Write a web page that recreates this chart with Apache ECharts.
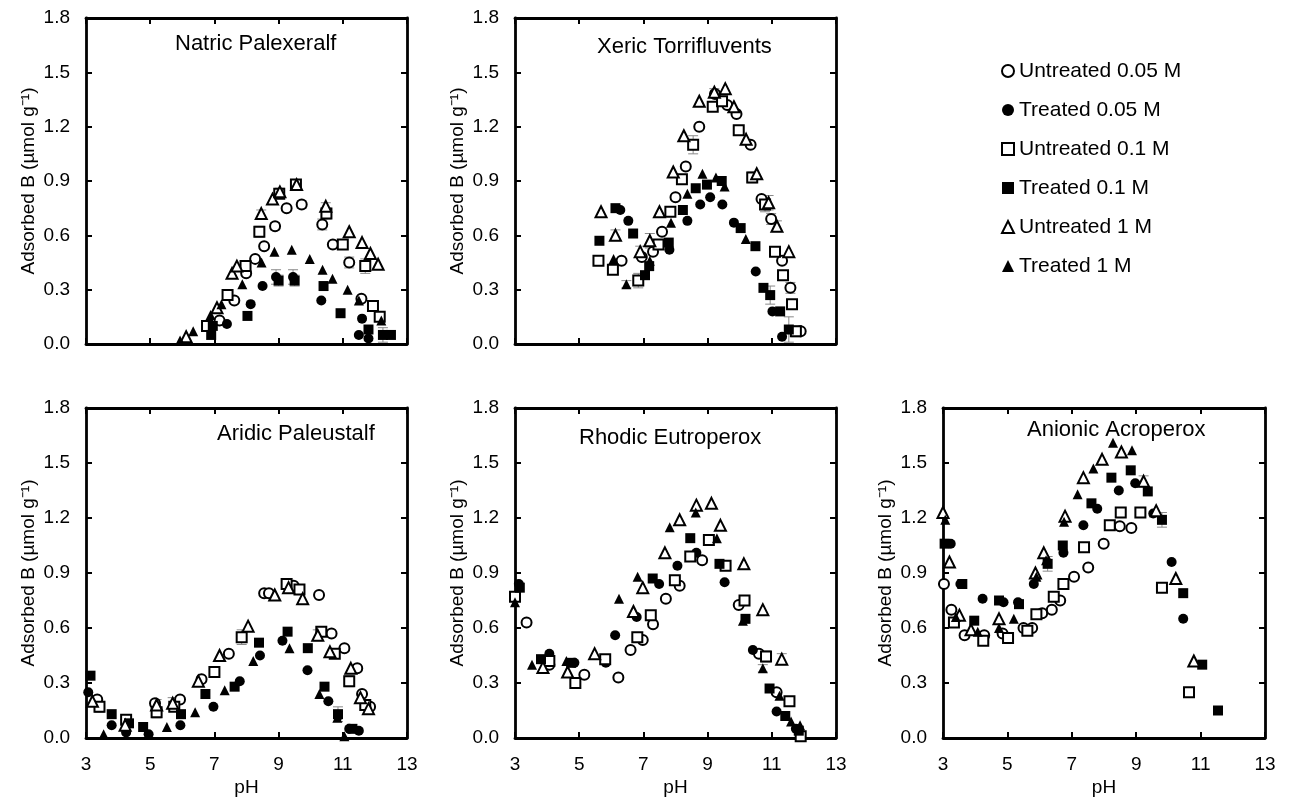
<!DOCTYPE html>
<html>
<head>
<meta charset="utf-8">
<script src="https://cdn.jsdelivr.net/npm/echarts@6/dist/echarts.min.js"></script>
<style>
  html, body { margin: 0; padding: 0; background: #fff; }
  #chart { width: 1291px; height: 800px; }
</style>
</head>
<body>
<div id="chart"></div>
<script>
// Boron adsorption vs pH for five soils, three NaCl background levels, untreated / treated
const seriesNames = ['Untreated 0.05 M', 'Treated 0.05 M', 'Untreated 0.1 M', 'Treated 0.1 M', 'Untreated 1 M', 'Treated 1 M'];
const panelTitles = ['Natric Palexeralf', 'Xeric Torrifluvents', 'Aridic Paleustalf', 'Rhodic Eutroperox', 'Anionic Acroperox'];
const xTicks = [3, 5, 7, 9, 11, 13];
const yTicks = [0.0, 0.3, 0.6, 0.9, 1.2, 1.5, 1.8];

// [pH, adsorbed B (µmol/g), optional standard error]
const natricU005 = [[7.16,0.13],[7.62,0.24],[7.99,0.39],[8.27,0.47],[8.55,0.54],[8.89,0.65,0.02],[9.25,0.75],[9.72,0.77,0.02],[10.36,0.66,0.03],[10.69,0.55],[11.2,0.45,0.03],[11.58,0.25]];
const natricT005 = [[7.39,0.11],[8.13,0.22],[8.5,0.32],[8.92,0.37,0.04],[9.45,0.37,0.04],[10.33,0.24],[11.5,0.05],[11.6,0.14],[11.8,0.03]];
const natricU01  = [[6.77,0.10],[7.41,0.27],[7.97,0.43],[8.4,0.62,0.03],[9.02,0.83],[9.54,0.88,0.02],[10.49,0.72,0.03],[11.0,0.55],[11.7,0.43,0.04],[11.94,0.21,0.03],[12.15,0.15]];
const natricT01  = [[6.9,0.05],[6.95,0.10],[8.03,0.155],[9.0,0.35,0.03],[9.5,0.35,0.03],[10.4,0.32],[10.93,0.17],[11.8,0.08],[12.25,0.05,0.04],[12.5,0.05]];
const natricU1   = [[6.12,0.04],[7.08,0.20],[7.55,0.39],[7.7,0.43],[8.46,0.72,0.02],[8.81,0.80],[9.04,0.84,0.02],[9.56,0.88],[10.47,0.76,0.02],[11.2,0.62],[11.6,0.56],[11.86,0.50],[12.1,0.44]];
const natricT1   = [[5.93,0.02],[6.34,0.07],[6.88,0.16],[7.22,0.22],[7.87,0.33],[8.47,0.45],[8.87,0.51],[9.41,0.52],[9.97,0.47],[10.37,0.41],[10.68,0.36],[11.15,0.30],[11.5,0.24],[12.2,0.13]];

const xericU005 = [[6.32,0.46],[6.95,0.48],[7.3,0.51],[7.58,0.62],[8.0,0.81],[8.32,0.98],[8.74,1.20],[9.23,1.38,0.02],[9.61,1.32],[9.9,1.27],[10.34,1.10],[10.68,0.80],[10.98,0.69,0.03],[11.32,0.46],[11.58,0.31,0.03],[11.9,0.07]];
const xericT005 = [[6.28,0.74],[6.53,0.68],[7.81,0.52],[8.37,0.68],[8.77,0.77],[9.08,0.81],[9.46,0.77],[9.82,0.67],[10.5,0.40],[11.02,0.18],[11.32,0.04]];
const xericU01  = [[5.6,0.46],[6.05,0.41],[6.84,0.35,0.04],[7.47,0.55],[7.84,0.73],[8.2,0.91],[8.55,1.10,0.05],[9.16,1.31],[9.45,1.34],[9.97,1.18],[10.39,0.92,0.03],[10.79,0.77,0.04],[11.1,0.51],[11.35,0.38],[11.63,0.22],[11.75,0.07,0.03]];
const xericT01  = [[5.63,0.57],[6.13,0.75],[6.68,0.61],[7.05,0.38],[7.18,0.43],[7.79,0.56],[8.23,0.74],[8.63,0.86],[8.98,0.88],[9.44,0.90],[10.03,0.64],[10.49,0.54],[10.74,0.31],[10.95,0.27,0.05],[11.26,0.18],[11.53,0.08,0.07]];
const xericU1   = [[5.68,0.73],[6.13,0.60,0.03],[6.9,0.51,0.03],[7.2,0.57,0.04],[7.5,0.73],[7.93,0.95],[8.26,1.15],[8.74,1.34],[9.21,1.39,0.02],[9.55,1.41],[9.82,1.31],[10.2,1.13],[10.53,0.94],[10.9,0.78,0.04],[11.16,0.65,0.03],[11.53,0.51]];
const xericT1   = [[6.07,0.47],[6.47,0.33,0.02],[7.2,0.46],[7.86,0.67],[8.37,0.83],[8.84,0.94],[9.26,0.92],[9.53,0.87],[10.19,0.58]];

const aridicU005 = [[3.35,0.21],[5.15,0.19],[5.93,0.21],[6.6,0.32],[7.45,0.46],[8.55,0.79],[8.7,0.79],[9.47,0.83],[10.26,0.78],[10.65,0.57],[11.05,0.49],[11.45,0.38],[11.6,0.24],[11.85,0.17]];
const aridicT005 = [[3.07,0.25],[3.8,0.07],[4.25,0.03],[4.95,0.02],[5.94,0.07],[6.97,0.17],[7.79,0.31],[8.42,0.45],[9.12,0.53],[9.9,0.37],[10.55,0.20],[10.85,0.12],[11.2,0.05],[11.5,0.04]];
const aridicU01  = [[3.42,0.17,0.03],[4.25,0.10],[5.2,0.14,0.03],[5.75,0.17],[7.0,0.36],[7.85,0.55,0.04],[9.25,0.84,0.03],[9.65,0.81],[10.33,0.58],[10.75,0.46],[11.2,0.31,0.03],[11.7,0.18]];
const aridicT01  = [[3.14,0.34],[3.8,0.13],[4.34,0.08],[4.78,0.06],[5.96,0.13],[6.72,0.24],[7.63,0.28],[8.39,0.52],[9.28,0.58],[9.91,0.49],[10.43,0.28],[10.85,0.13,0.04],[11.3,0.05]];
const aridicU1   = [[3.2,0.20],[4.22,0.07,0.03],[5.2,0.18,0.03],[5.7,0.19,0.03],[6.5,0.31],[7.16,0.45],[8.05,0.61],[8.88,0.78],[9.31,0.82],[9.75,0.76],[10.22,0.56,0.03],[10.6,0.47],[11.25,0.38],[11.55,0.22],[11.8,0.16]];
const aridicT1   = [[3.55,0.02],[5.52,0.06],[6.4,0.14],[7.32,0.26],[8.21,0.42],[9.34,0.49],[10.27,0.24],[10.83,0.11],[11.05,0.01]];

const rhodicU005 = [[3.36,0.63],[4.07,0.40],[5.16,0.345],[6.22,0.33],[6.6,0.48],[6.98,0.535],[7.3,0.62],[7.7,0.76],[8.13,0.83],[8.83,0.97],[9.97,0.725],[10.6,0.46],[11.15,0.25]];
const rhodicT005 = [[3.12,0.84],[4.07,0.46],[4.85,0.41],[5.83,0.41],[6.12,0.56],[6.79,0.66],[7.49,0.84],[8.06,0.94],[8.65,1.01],[9.53,0.85],[10.41,0.48],[11.15,0.145],[11.75,0.05]];
const rhodicU01  = [[3.0,0.77],[4.07,0.42],[4.88,0.30],[5.81,0.43],[6.81,0.55],[7.23,0.67],[7.98,0.86],[8.46,0.99],[9.04,1.08],[9.56,0.94],[10.15,0.75],[10.82,0.445,0.03],[11.55,0.20],[11.9,0.01]];
const rhodicT01  = [[3.15,0.82],[3.81,0.43],[4.75,0.41],[7.29,0.87],[8.46,1.09],[9.37,0.95],[10.18,0.65],[10.93,0.27],[11.42,0.12],[11.84,0.04]];
const rhodicU1   = [[3.87,0.385],[4.64,0.36],[5.48,0.46],[6.69,0.69],[6.98,0.82],[7.67,1.01],[8.13,1.19],[8.65,1.27],[9.12,1.28],[9.4,1.16],[10.13,0.95],[10.72,0.70],[11.31,0.43,0.03]];
const rhodicT1   = [[3.0,0.74],[3.53,0.40],[4.6,0.42],[6.24,0.76],[6.82,0.88],[7.82,1.15],[8.63,1.23],[9.29,1.09],[10.1,0.64],[10.72,0.38,0.02],[11.24,0.23],[11.6,0.09],[11.88,0.07]];

const anionicU005 = [[3.03,0.84],[3.26,0.70],[3.67,0.56],[4.28,0.56],[4.85,0.57],[5.5,0.60],[5.77,0.60],[6.08,0.68],[6.38,0.70],[6.64,0.75],[7.07,0.88],[7.51,0.93],[7.99,1.06],[8.49,1.155],[8.85,1.145]];
const anionicT005 = [[3.24,1.06],[3.54,0.84],[4.23,0.76],[4.88,0.74],[5.33,0.74],[5.82,0.84],[6.74,1.01],[7.36,1.16],[7.79,1.25],[8.46,1.35],[8.97,1.39],[9.53,1.225],[10.1,0.96],[10.46,0.65]];
const anionicU01  = [[3.34,0.63],[4.25,0.53],[5.02,0.545],[5.62,0.585],[5.9,0.675],[6.44,0.77],[6.74,0.84,0.02],[7.38,1.04],[8.18,1.16],[8.52,1.23],[9.13,1.23],[9.8,0.82],[10.64,0.25,0.02]];
const anionicT01  = [[3.05,1.06],[3.6,0.84],[3.97,0.64],[4.74,0.75],[5.36,0.73],[6.25,0.95,0.04],[6.72,1.05],[7.61,1.28],[8.23,1.42],[8.83,1.46],[9.36,1.345],[9.8,1.19,0.04],[10.46,0.79],[11.05,0.40],[11.54,0.15]];
const anionicU1   = [[3.0,1.23],[3.2,0.96],[3.51,0.67],[3.87,0.59],[4.74,0.65],[5.87,0.90],[6.13,1.01],[6.79,1.21],[7.36,1.42],[7.94,1.52],[8.54,1.56],[9.23,1.40,0.03],[9.62,1.24],[10.23,0.87],[10.79,0.42]];
const anionicT1   = [[3.07,1.19],[3.4,0.66],[4.08,0.58],[4.74,0.60],[5.2,0.65],[5.9,0.88],[6.2,0.97],[6.76,1.18],[7.18,1.33],[7.67,1.47],[8.28,1.61],[8.87,1.57]];

const panelData = [
  [natricU005, natricT005, natricU01, natricT01, natricU1, natricT1],
  [xericU005, xericT005, xericU01, xericT01, xericU1, xericT1],
  [aridicU005, aridicT005, aridicU01, aridicT01, aridicU1, aridicT1],
  [rhodicU005, rhodicT005, rhodicU01, rhodicT01, rhodicU1, rhodicT1],
  [anionicU005, anionicT005, anionicU01, anionicT01, anionicU1, anionicT1]
];

// layout of the five plot boxes
const boxes = [
  { left: 86,  top: 18,  width: 321, height: 326, bottomRow: false, titleLeft: 170,  titleTop: 28 },
  { left: 515, top: 18,  width: 321, height: 326, bottomRow: false, titleLeft: 592,  titleTop: 31 },
  { left: 86,  top: 408, width: 321, height: 330, bottomRow: true,  titleLeft: 212,  titleTop: 418 },
  { left: 515, top: 408, width: 321, height: 330, bottomRow: true,  titleLeft: 574,  titleTop: 422 },
  { left: 943, top: 408, width: 322, height: 330, bottomRow: true,  titleLeft: 1022, titleTop: 414 }
];

const markerSymbols = ['circle', 'circle', 'rect', 'rect', 'triangle', 'triangle'];
const markerSizes = [10, 10, 10, 10, 11, 10];
const markerHollow = [true, false, true, false, true, false];

const FONT = '"Liberation Sans", Arial, sans-serif';
const frameLine = { color: '#000', width: 2.8 };
const tickStyle = { show: true, inside: true, length: 6, lineStyle: { color: '#000', width: 2 } };

// vertical error whisker with caps
function renderErrorBar(params, api) {
  const x = api.value(0), y = api.value(1), e = api.value(2);
  const hi = api.coord([x, y + e]);
  const lo = api.coord([x, y - e]);
  const cap = 5;
  const style = { stroke: '#8a8a8a', lineWidth: 1 };
  return {
    type: 'group',
    children: [
      { type: 'line', shape: { x1: hi[0], y1: hi[1], x2: lo[0], y2: lo[1] }, style },
      { type: 'line', shape: { x1: hi[0] - cap, y1: hi[1], x2: hi[0] + cap, y2: hi[1] }, style },
      { type: 'line', shape: { x1: lo[0] - cap, y1: lo[1], x2: lo[0] + cap, y2: lo[1] }, style }
    ]
  };
}

const grid = [], xAxis = [], yAxis = [], series = [], title = [];

boxes.forEach((b, i) => {
  grid.push({ left: b.left, top: b.top, width: b.width, height: b.height, containLabel: false });
  title.push({
    text: panelTitles[i], left: b.titleLeft, top: b.titleTop,
    textStyle: { fontFamily: FONT, fontSize: 22, fontWeight: 'normal', color: '#000' }
  });
  // bottom and top x axes
  xAxis.push({
    gridIndex: i, type: 'value', position: 'bottom',
    min: xTicks[0], max: xTicks[xTicks.length - 1], interval: 2,
    axisLine: { show: true, onZero: false, lineStyle: frameLine },
    axisTick: tickStyle,
    axisLabel: { show: b.bottomRow, fontFamily: FONT, fontSize: 19, color: '#000', margin: 17 },
    splitLine: { show: false },
    name: b.bottomRow ? 'pH' : '', nameLocation: 'middle', nameGap: 40,
    nameTextStyle: { fontFamily: FONT, fontSize: 19, color: '#000' }
  });
  xAxis.push({
    gridIndex: i, type: 'value', position: 'top',
    min: xTicks[0], max: xTicks[xTicks.length - 1], interval: 2,
    axisLine: { show: true, onZero: false, lineStyle: frameLine },
    axisTick: tickStyle, axisLabel: { show: false }, splitLine: { show: false }
  });
  // left and right y axes
  yAxis.push({
    gridIndex: i, type: 'value', position: 'left',
    min: yTicks[0], max: yTicks[yTicks.length - 1], interval: 0.3,
    axisLine: { show: true, onZero: false, lineStyle: frameLine },
    axisTick: tickStyle,
    axisLabel: { fontFamily: FONT, fontSize: 19, color: '#000', margin: 16, formatter: v => v.toFixed(1) },
    splitLine: { show: false },
    name: 'Adsorbed B (µmol g⁻¹)', nameLocation: 'middle', nameGap: 48, nameRotate: 90,
    nameTextStyle: { fontFamily: FONT, fontSize: 19, color: '#000' }
  });
  yAxis.push({
    gridIndex: i, type: 'value', position: 'right',
    min: yTicks[0], max: yTicks[yTicks.length - 1], interval: 0.3,
    axisLine: { show: true, onZero: false, lineStyle: frameLine },
    axisTick: tickStyle, axisLabel: { show: false }, splitLine: { show: false }
  });

  panelData[i].forEach((pts, k) => {
    const withErr = pts.filter(p => p.length > 2);
    if (withErr.length) {
      series.push({
        type: 'custom', xAxisIndex: 2 * i, yAxisIndex: 2 * i,
        data: withErr, renderItem: renderErrorBar,
        encode: { x: 0, y: 1 }, silent: true, z: 2
      });
    }
    series.push({
      name: seriesNames[k], type: 'scatter',
      xAxisIndex: 2 * i, yAxisIndex: 2 * i,
      data: pts.map(p => [p[0], p[1]]),
      symbol: markerSymbols[k], symbolSize: markerSizes[k],
      itemStyle: markerHollow[k]
        ? { color: '#fff', borderColor: '#000', borderWidth: 2, opacity: 1 }
        : { color: '#000', borderColor: '#000', borderWidth: 0, opacity: 1 },
      emphasis: { disabled: true },
      z: 3
    });
  });
});

const chart = echarts.init(document.getElementById('chart'), null, { renderer: 'canvas' });
chart.setOption({
  animation: false,
  backgroundColor: '#fff',
  title,
  legend: {
    data: seriesNames, orient: 'vertical', left: 996, top: 55,
    itemWidth: 12, itemHeight: 12, itemGap: 17,
    textStyle: { fontFamily: FONT, fontSize: 21, color: '#000', lineHeight: 22 },
    selectedMode: false
  },
  grid, xAxis, yAxis, series
});
</script>
</body>
</html>
